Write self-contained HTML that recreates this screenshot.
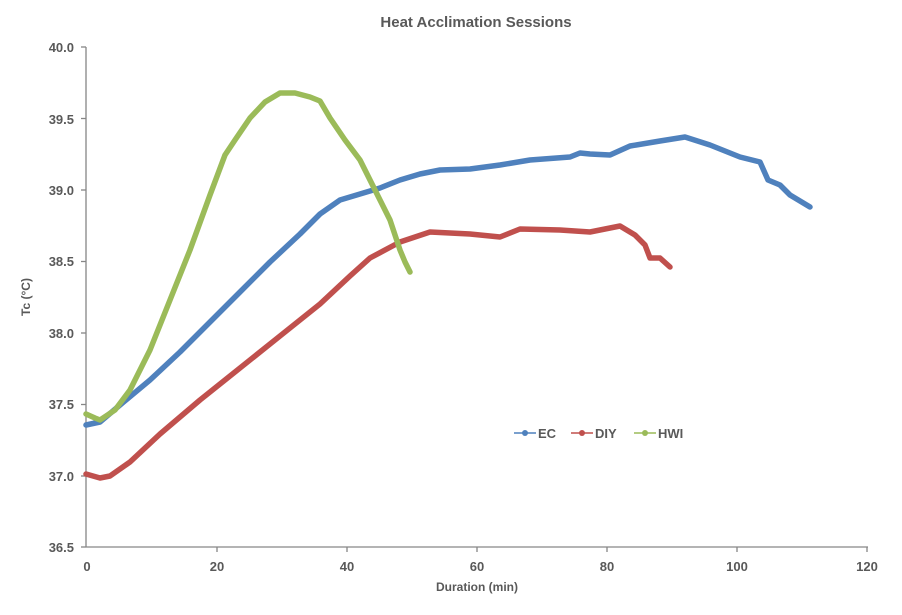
<!DOCTYPE html>
<html><head><meta charset="utf-8"><style>
body{margin:0;background:#fff;}
text{font-family:"Liberation Sans",sans-serif;fill:#595959;font-weight:bold;}
</style></head><body>
<svg width="902" height="610" viewBox="0 0 902 610">
<text x="476" y="27" font-size="15" text-anchor="middle">Heat Acclimation Sessions</text>
<g stroke="#868686" stroke-width="1.3" fill="none">
<line x1="86" y1="47" x2="86" y2="547"/>
<line x1="86" y1="547" x2="868" y2="547"/>
<line x1="81" y1="47" x2="86" y2="47"/><line x1="81" y1="118.5" x2="86" y2="118.5"/><line x1="81" y1="190" x2="86" y2="190"/><line x1="81" y1="261.5" x2="86" y2="261.5"/><line x1="81" y1="333" x2="86" y2="333"/><line x1="81" y1="404.5" x2="86" y2="404.5"/><line x1="81" y1="476" x2="86" y2="476"/><line x1="81" y1="547" x2="86" y2="547"/>
<line x1="217" y1="547" x2="217" y2="552"/><line x1="347" y1="547" x2="347" y2="552"/><line x1="477" y1="547" x2="477" y2="552"/><line x1="607" y1="547" x2="607" y2="552"/><line x1="737" y1="547" x2="737" y2="552"/><line x1="867" y1="547" x2="867" y2="552"/>
</g>
<g font-size="13" text-anchor="end">
<text x="74" y="52">40.0</text><text x="74" y="124">39.5</text><text x="74" y="195">39.0</text><text x="74" y="266">38.5</text><text x="74" y="338">38.0</text><text x="74" y="409">37.5</text><text x="74" y="481">37.0</text><text x="74" y="552">36.5</text>
</g>
<g font-size="13" text-anchor="middle">
<text x="87" y="571">0</text><text x="217" y="571">20</text><text x="347" y="571">40</text><text x="477" y="571">60</text><text x="607" y="571">80</text><text x="737" y="571">100</text><text x="867" y="571">120</text>
<text x="477" y="591" font-size="12">Duration (min)</text>
</g>
<text x="30" y="297" font-size="12" text-anchor="middle" transform="rotate(-90 30 297)">Tc (°C)</text>
<g fill="none" stroke-width="5.5" stroke-linejoin="round" stroke-linecap="round">
<polyline stroke="#4f81bd" points="86,425 100,422 120,405 150,380 180,352 210,322 240,292 270,262 300,234 320,214 340,200 360,194 380,188 400,180 420,174 440,170 470,169 500,165 530,160 570,157 580,153 590,154 610,155 630,146 660,141 685,137 710,145 740,157 760,162 768,180 780,185 790,195 810,207"/>
<polyline stroke="#c0504d" points="86,474 100,478 110,476 130,462 160,434 200,400 240,368 280,336 320,304 350,276 370,258 400,242 430,232 470,234 500,237 520,229 560,230 590,232 620,226 635,235 645,245 650,258 660,258 670,267"/>
<polyline stroke="#9bbb59" points="86,414 95,418 100,420 115,410 130,390 150,350 170,300 190,250 210,195 225,155 235,140 250,118 265,102 280,93 295,93 310,97 320,101 330,118 345,140 360,160 375,190 390,220 400,250 405,262 410,272"/>
</g>
<g stroke-width="1.5" font-size="13">
<line x1="514" y1="433" x2="536" y2="433" stroke="#4f81bd"/><circle cx="525" cy="433" r="3" fill="#4f81bd"/><text x="538" y="438">EC</text>
<line x1="571" y1="433" x2="593" y2="433" stroke="#c0504d"/><circle cx="582" cy="433" r="3" fill="#c0504d"/><text x="595" y="438">DIY</text>
<line x1="634" y1="433" x2="656" y2="433" stroke="#9bbb59"/><circle cx="645" cy="433" r="3" fill="#9bbb59"/><text x="658" y="438">HWI</text>
</g>
</svg>
</body></html>
